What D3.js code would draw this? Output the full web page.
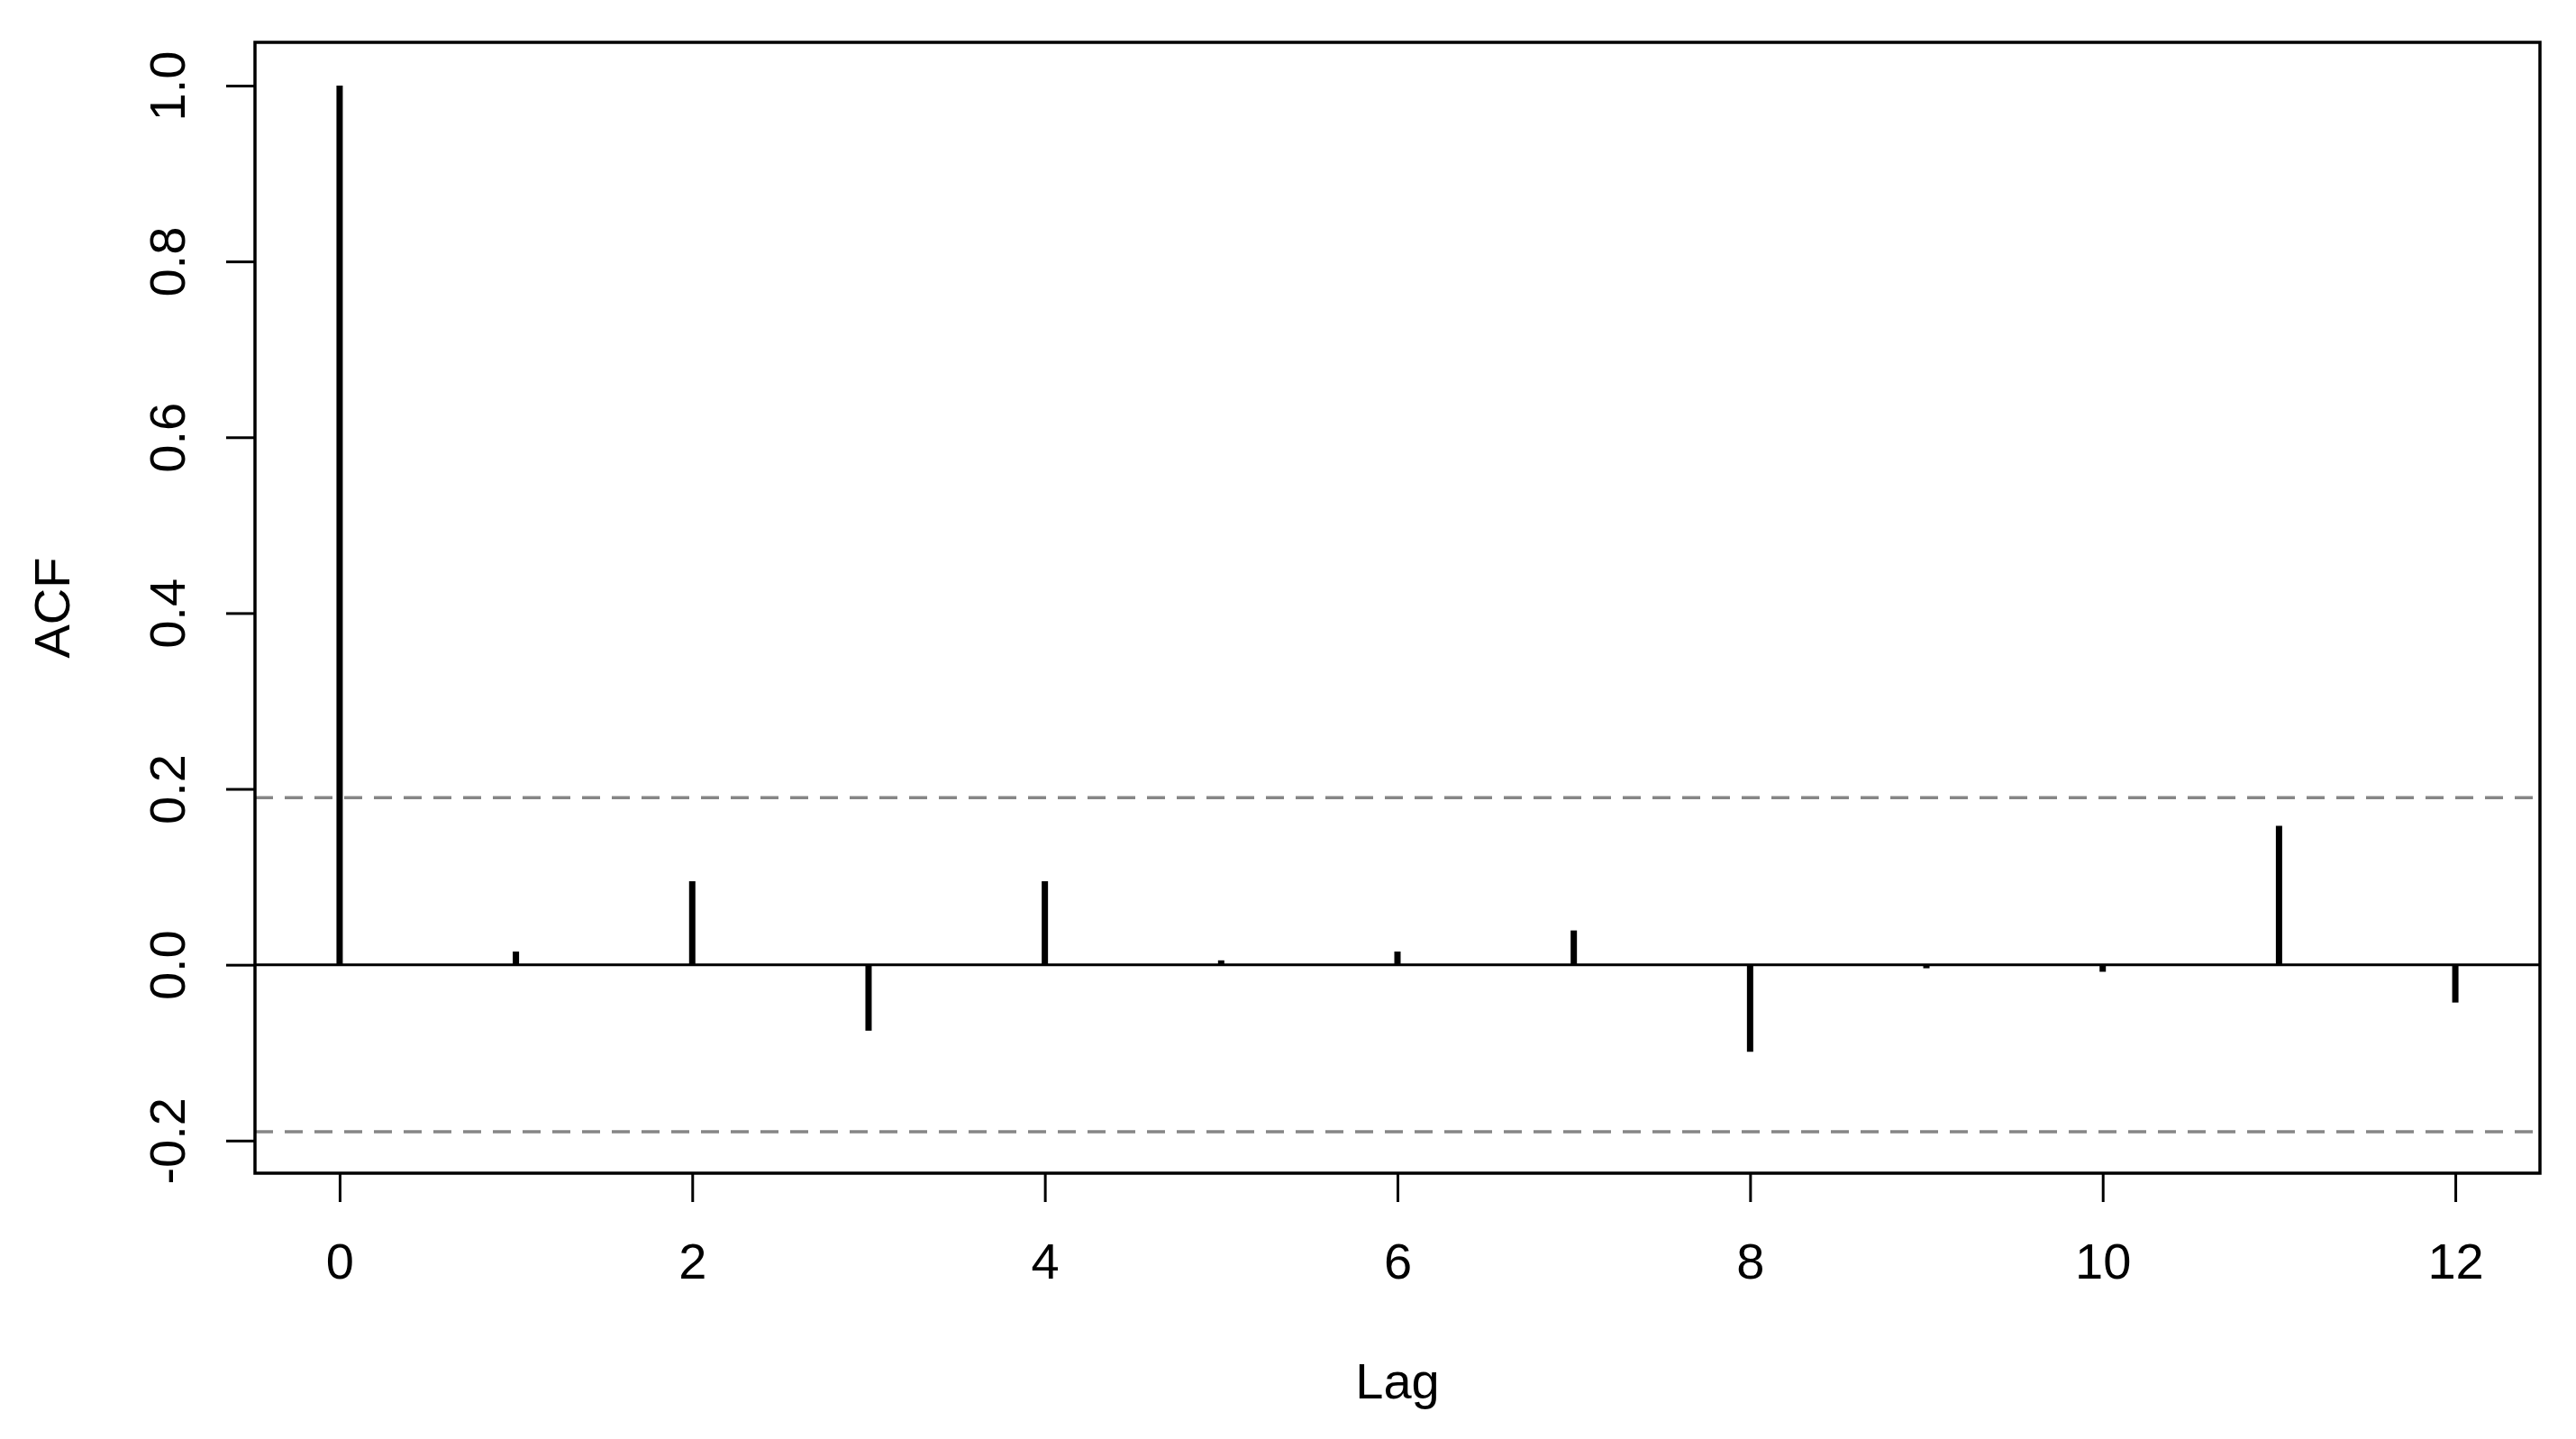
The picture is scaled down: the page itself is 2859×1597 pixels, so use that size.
<!DOCTYPE html>
<html>
<head>
<meta charset="utf-8">
<script src="https://cdn.jsdelivr.net/npm/d3@7"></script>
<style>
  html, body { margin: 0; padding: 0; background: #fff; }
  svg { display: block; }
  text { font-family: "Liberation Sans", Arial, sans-serif; fill: #000; }
</style>
</head>
<body>
<script>
// ---- data ----
const lags = [0, 1, 2, 3, 4, 5, 6, 7, 8, 9, 10, 11, 12];
const acfValues = [1.0, 0.015, 0.095, -0.075, 0.095, 0.005, 0.015, 0.039, -0.099, -0.004, -0.008, 0.158, -0.043];
const confLimit = 0.19;
const xTicks = [0, 2, 4, 6, 8, 10, 12];
const yTicks = [-0.2, 0.0, 0.2, 0.4, 0.6, 0.8, 1.0];
const xLabel = "Lag";
const yLabel = "ACF";

// ---- layout ----
const W = 2859, H = 1597;
const box = { left: 283, right: 2819, top: 47, bottom: 1302 };
const fontSize = 56;

const svg = d3.select("body").append("svg").attr("width", W).attr("height", H);

const x = d3.scaleLinear().domain([-0.48, 12.48]).range([box.left, box.right]);
const y = d3.scaleLinear().domain([-0.2371, 1.0492]).range([box.bottom, box.top]);

// confidence lines
svg.append("g").selectAll("line").data([confLimit, -confLimit]).join("line")
  .attr("x1", box.left).attr("x2", box.right)
  .attr("y1", d => y(d)).attr("y2", d => y(d))
  .attr("stroke", "#868686").attr("stroke-width", 3.5)
  .attr("stroke-dasharray", "20,13");

// zero line
svg.append("line")
  .attr("x1", box.left).attr("x2", box.right)
  .attr("y1", y(0)).attr("y2", y(0))
  .attr("stroke", "#000").attr("stroke-width", 3);

// spikes
svg.append("g").selectAll("line").data(lags).join("line")
  .attr("x1", (d) => x(d)).attr("x2", (d) => x(d))
  .attr("y1", y(0)).attr("y2", (d, i) => y(acfValues[i]))
  .attr("stroke", "#000").attr("stroke-width", 7).attr("stroke-linecap", "butt");

// box
svg.append("rect")
  .attr("x", box.left).attr("y", box.top)
  .attr("width", box.right - box.left).attr("height", box.bottom - box.top)
  .attr("fill", "none").attr("stroke", "#000").attr("stroke-width", 3.5);

// x axis
const xAxis = d3.axisBottom(x).tickValues(xTicks).tickSize(32).tickPadding(0).tickFormat(d => String(d));
const gx = svg.append("g").attr("transform", `translate(0,${box.bottom})`).call(xAxis);
gx.select(".domain").remove();
gx.selectAll(".tick line").attr("stroke", "#000").attr("stroke-width", 3);
gx.selectAll(".tick text")
  .attr("y", 117).attr("dy", null)
  .style("font-family", '"Liberation Sans", Arial, sans-serif')
  .style("font-size", fontSize + "px").attr("fill", "#000");

// y axis
const yAxis = d3.axisLeft(y).tickValues(yTicks).tickSize(32).tickPadding(0).tickFormat(d => d.toFixed(1));
const gy = svg.append("g").attr("transform", `translate(${box.left},0)`).call(yAxis);
gy.select(".domain").remove();
gy.selectAll(".tick line").attr("stroke", "#000").attr("stroke-width", 3);
gy.selectAll(".tick text")
  .attr("x", null).attr("dy", null)
  .attr("text-anchor", "middle")
  .attr("transform", "translate(-78,0) rotate(-90)")
  .style("font-family", '"Liberation Sans", Arial, sans-serif')
  .style("font-size", fontSize + "px").attr("fill", "#000");

// axis titles
svg.append("text")
  .attr("x", (box.left + box.right) / 2).attr("y", 1552)
  .attr("text-anchor", "middle")
  .style("font-size", fontSize + "px")
  .text(xLabel);

svg.append("text")
  .attr("transform", `translate(77,${(box.top + box.bottom) / 2}) rotate(-90)`)
  .attr("text-anchor", "middle")
  .style("font-size", fontSize + "px")
  .text(yLabel);
</script>
</body>
</html>
